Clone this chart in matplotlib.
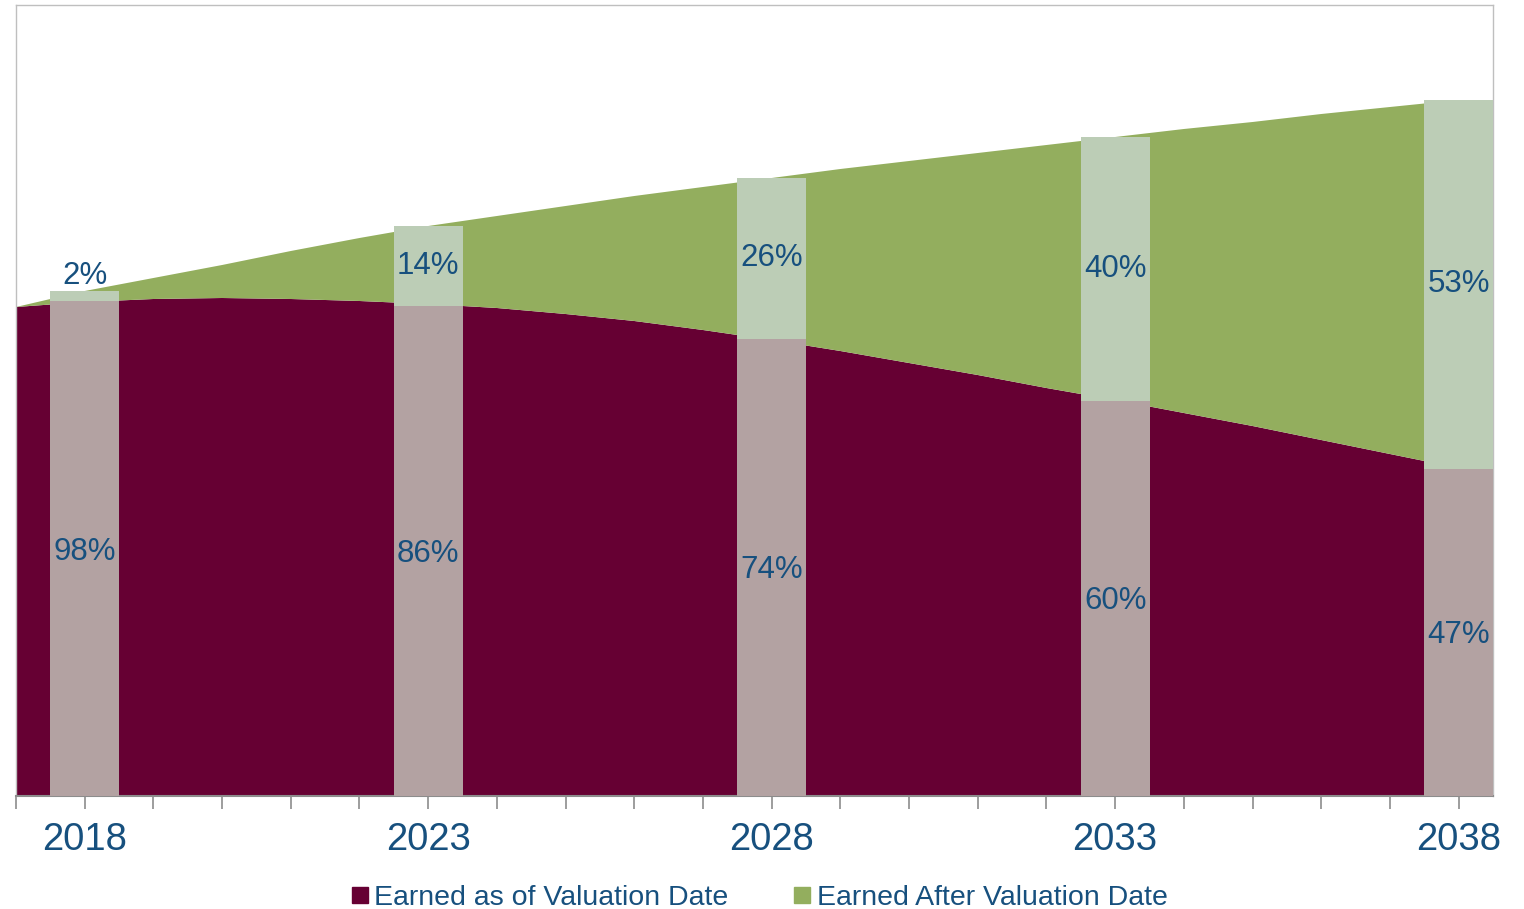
import matplotlib
matplotlib.use("Agg")
import matplotlib.pyplot as plt
from matplotlib.lines import Line2D
import matplotlib.font_manager as fm

# ---- data ----
years = list(range(2017, 2039))
total = [489, 505, 518, 531, 545, 558, 570, 580, 590, 600, 609,
         618, 627, 635, 643, 651, 659, 667, 674, 682, 689, 696]
earned = [489, 494, 497, 498, 497, 495, 492, 488, 482, 475, 466,
          456, 445, 433, 421, 408, 396, 383, 370, 356, 342, 328]
bar_years = [2018, 2023, 2028, 2033, 2038]
pct_earned = [98, 86, 74, 60, 47]
pct_after = [2, 14, 26, 40, 53]
tick_labels = ["2018", "2023", "2028", "2033", "2038"]
series_names = ["Earned as of Valuation Date", "Earned After Valuation Date"]

# ---- style ----
MAROON = "#660033"
GREEN = "#93AE5E"
BAR_LOW = "#B3A2A2"
BAR_HIGH = "#BCCDB6"
TXT = "#17507E"
EDGE = "#BFBFBF"

names = {f.name for f in fm.fontManager.ttflist}
narrow = "Liberation Sans Narrow" if "Liberation Sans Narrow" in names else "Liberation Sans"
pct_size = 25 if narrow == "Liberation Sans Narrow" else 22.5
leg_size = 22 if narrow == "Liberation Sans Narrow" else 20.5

fig = plt.figure(figsize=(15.24, 9.09), dpi=100)
ax = fig.add_axes([16/1524, 1 - 796/909, (1493-16)/1524, (796-5)/909])

after = [t - e for t, e in zip(total, earned)]
ax.stackplot(years, earned, after, colors=[MAROON, GREEN], linewidth=0)

# overlay bars
tot_at = [total[years.index(y)] for y in bar_years]
low = [t * p / 100 for t, p in zip(tot_at, pct_earned)]
high = [t - l for t, l in zip(tot_at, low)]
ax.bar(bar_years, low, width=1.0, color=BAR_LOW, linewidth=0, zorder=3)
ax.bar(bar_years, high, bottom=low, width=1.0, color=BAR_HIGH, linewidth=0, zorder=3)

for x, l, h, pe, pa in zip(bar_years, low, high, pct_earned, pct_after):
    ax.text(x, l / 2 - 3, f"{pe}%", ha="center", va="center", color=TXT,
            fontsize=pct_size, family=narrow, zorder=4)
    if h < 40:
        ax.text(x, l + h + 15, f"{pa}%", ha="center", va="center", color=TXT,
                fontsize=pct_size, family=narrow, zorder=4)
    else:
        ax.text(x, l + h / 2, f"{pa}%", ha="center", va="center", color=TXT,
                fontsize=pct_size, family=narrow, zorder=4)

ax.set_xlim(2017, 2038.5)
ax.set_ylim(0, 791)
ax.set_yticks([])
ax.set_xticks(range(2017, 2039), minor=True)
ax.set_xticks(bar_years)
ax.set_xticklabels(tick_labels, fontsize=27.5, color=TXT, family="Liberation Sans")
ax.tick_params(axis="x", which="both", length=9, width=1.2, color="#8C8C8C",
               direction="out", pad=10)
for s in ax.spines.values():
    s.set_color(EDGE)
    s.set_linewidth(1.0)
ax.spines["bottom"].set_color("#8C8C8C")
ax.spines["bottom"].set_linewidth(1.5)

handles = [Line2D([], [], marker="s", linestyle="none", markersize=12,
                  markerfacecolor=c, markeredgecolor=c) for c in (MAROON, GREEN)]
fig.legend(handles, series_names, loc="center", bbox_to_anchor=(758/1524, 1 - 898/909),
           ncol=2, frameon=False, handletextpad=0.1, columnspacing=2.2,
           handlelength=0.8,
           prop={"family": narrow, "size": leg_size}, labelcolor=TXT)

fig.savefig("out.png", dpi=100)
